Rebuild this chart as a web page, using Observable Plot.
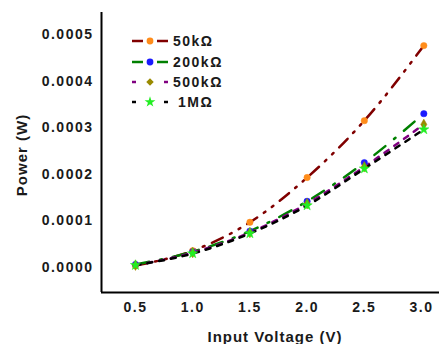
<!DOCTYPE html>
<html><head><meta charset="utf-8">
<script src="https://cdn.jsdelivr.net/npm/d3@7"></script>
<script src="https://cdn.jsdelivr.net/npm/@observablehq/plot@0.6"></script>
<style>
body{margin:0;background:#fff;}
#wrap{position:relative;width:439px;height:344px;overflow:hidden;}
#wrap svg text{font-family:"Liberation Sans",Arial,sans-serif;font-weight:bold;letter-spacing:1.5px;}
#legend{position:absolute;left:0;top:0;}
</style></head>
<body><div id="wrap"></div>
<script>
const volts = [0.5, 1.0, 1.5, 2.0, 2.5, 3.02];
const p50k  = [0.000004, 0.000036, 0.000097, 0.000193, 0.000315, 0.000476];
const p200k = [0.0000065, 0.000034, 0.000078, 0.000142, 0.000225, 0.00033];
const p500k = [0.000005, 0.000032, 0.000075, 0.000137, 0.000216, 0.000307];
const p1M   = [0.000005, 0.00003, 0.000073, 0.000133, 0.000212, 0.000296];
const seriesNames = ["50kΩ", "200kΩ", "500kΩ", "1MΩ"];
const xTicks = [0.5, 1.0, 1.5, 2.0, 2.5, 3.0];
const yTicks = [0, 0.0001, 0.0002, 0.0003, 0.0004, 0.0005];
const xTitle = "Input Voltage (V)";
const yTitle = "Power (W)";
const xDomain = [0.203, 3.157];
const yDomain = [-0.0000536, 0.000547];

const values = [p50k, p200k, p500k, p1M];
const lineColors = ["#800000", "#008000", "#800080", "#000000"];
const dotColors = ["#ff8c1a", "#1a1aff", "#9a8a00", "#22ee22"];
const symbols = ["circle", "circle", "diamond", "star"];
const dashes = ["12,8,2,8,2,8", "14,11,2,11", "5,7", "5,7"];

const data = [];
seriesNames.forEach((s, i) => volts.forEach((v, j) => data.push({series: s, x: v, y: values[i][j]})));

const marks = [
  Plot.ruleX([xDomain[0]], {stroke: "black", strokeWidth: 2}),
  Plot.ruleY([yDomain[0]], {stroke: "black", strokeWidth: 2}),
  Plot.axisY({ticks: yTicks, tickSize: 0, tickPadding: 8, tickFormat: d => d.toFixed(4), fontSize: 14, fill: "#1a1a1a", label: null}),
  Plot.axisX({ticks: xTicks, tickSize: 0, tickPadding: 10, tickFormat: d => d.toFixed(1), fontSize: 14, fill: "#1a1a1a", label: null})
];
seriesNames.forEach((s, i) => {
  const d = data.filter(r => r.series === s);
  marks.push(Plot.line(d, {x: "x", y: "y", stroke: lineColors[i], strokeWidth: 2.5, strokeDasharray: dashes[i], curve: "monotone-x"}));
});
seriesNames.forEach((s, i) => {
  const d = data.filter(r => r.series === s);
  marks.push(Plot.dot(d, {x: "x", y: "y", fill: dotColors[i], symbol: symbols[i], r: 3.2, stroke: dotColors[i], strokeWidth: 0.5}));
});

const chart = Plot.plot({
  width: 439, height: 344,
  marginLeft: 101, marginRight: 0, marginTop: 12, marginBottom: 52,
  x: {domain: xDomain},
  y: {domain: yDomain},
  style: {fontSize: "15px", color: "#1a1a1a", background: "white"},
  marks
});
document.getElementById("wrap").appendChild(chart);

// Overlay: legend and axis titles
const lg = d3.select("#wrap").append("svg").attr("id", "legend").attr("width", 439).attr("height", 344);
lg.append("text").attr("x", 275).attr("y", 342).attr("text-anchor", "middle").attr("font-size", 15)
  .attr("fill", "#1a1a1a").style("letter-spacing", "1px").text(xTitle);
lg.append("text").attr("transform", "translate(22,155) rotate(-90)").attr("text-anchor", "middle").attr("dy", "0.36em")
  .attr("font-size", 15).attr("fill", "#1a1a1a").style("letter-spacing", "1px").text(yTitle);
const rowY = [41, 62, 82, 102];
const segs = [[[132,143],[157,168]], [[132,143],[157,168]], [[132,136],[164,168]], [[132,136],[164,168]]];
seriesNames.forEach((s, i) => {
  segs[i].forEach(([a, b]) => lg.append("line").attr("x1", a).attr("x2", b).attr("y1", rowY[i]).attr("y2", rowY[i])
    .attr("stroke", lineColors[i]).attr("stroke-width", 2.5));
  lg.append("path").attr("d", d3.symbol(i === 2 ? d3.symbolDiamond2 : i === 3 ? d3.symbolStar : d3.symbolCircle, 36)())
    .attr("transform", `translate(150,${rowY[i]})`).attr("fill", dotColors[i]);
  lg.append("text").attr("x", i === 3 ? 178 : 173).attr("y", rowY[i]).attr("dy", "0.36em")
    .attr("font-size", 14).attr("fill", "#1a1a1a").text(s);
});
</script></body></html>
